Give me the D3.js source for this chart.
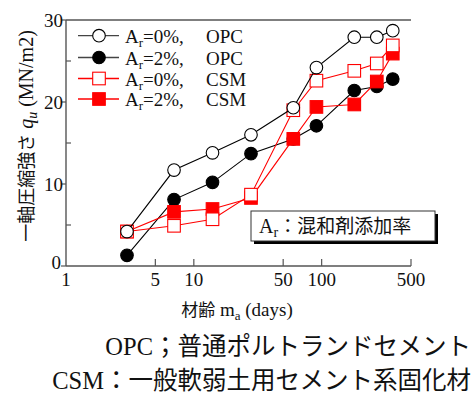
<!DOCTYPE html>
<html><head><meta charset="utf-8">
<script src="https://cdn.jsdelivr.net/npm/d3@7/dist/d3.min.js"></script>
<style>
body{margin:0;background:#fff;}
text{font-family:"Liberation Serif","Times New Roman","Tinos","DejaVu Serif",serif;fill:#111;}
.jp{font-family:"Noto Sans CJK JP","Noto Sans CJK SC",sans-serif;}
</style></head>
<body><svg id="c" width="473" height="394"></svg>
<script>
const days = [3, 7, 14, 28, 60, 91, 180, 270, 360];
const opc0 = [4.2, 11.7, 13.8, 16.0, 19.3, 24.2, 27.9, 27.9, 28.7];
const opc2 = [1.3, 8.1, 10.2, 13.7, 15.5, 17.1, 21.4, 21.9, 22.8];
const csm0 = [4.2, 4.9, 5.7, 8.7, 19.0, 22.6, 23.8, 24.7, 26.9];
const csm2 = [4.2, 6.6, 6.95, 8.3, 15.5, 19.4, 19.7, 22.5, 25.9];
const xTicks = [1, 5, 10, 50, 100, 500];
const yMajor = [0, 10, 20, 30];
const yMinor = [5, 15, 25];
const legendLabels = [["0%", "OPC"], ["2%", "OPC"], ["0%", "CSM"], ["2%", "CSM"]];

const svg = d3.select("#c");
const x = d3.scaleLog().domain([1, 500]).range([66, 411]);
const y = d3.scaleLinear().domain([0, 30]).range([266, 20]);
const axisColor = "#555";

svg.append("line").attr("x1", x(1)).attr("x2", x(500)).attr("y1", y(30)).attr("y2", y(30))
  .attr("stroke", axisColor).attr("stroke-width", 1.4);
svg.append("line").attr("x1", x(1)).attr("x2", x(1)).attr("y1", y(30)).attr("y2", y(0))
  .attr("stroke", axisColor).attr("stroke-width", 1.4);
svg.append("line").attr("x1", x(1)).attr("x2", x(500)).attr("y1", y(0)).attr("y2", y(0))
  .attr("stroke", axisColor).attr("stroke-width", 1.4);

const gx = svg.append("g");
xTicks.forEach(t => {
  if (t !== 1) gx.append("line").attr("x1", x(t)).attr("x2", x(t)).attr("y1", y(0)).attr("y2", y(0) - 7)
    .attr("stroke", axisColor).attr("stroke-width", 1.2);
  gx.append("text").attr("x", x(t)).attr("y", 286).attr("text-anchor", "middle")
    .attr("font-size", 19).text(t);
});
yMajor.forEach(t => {
  svg.append("line").attr("x1", x(1) - 5).attr("x2", x(1)).attr("y1", y(t)).attr("y2", y(t))
    .attr("stroke", axisColor).attr("stroke-width", 1.2);
  svg.append("text").attr("x", t === 0 ? 61 : 63).attr("y", y(t) + (t === 0 ? 3 : 6.5)).attr("text-anchor", "end")
    .attr("font-size", 19).text(t);
});
yMinor.forEach(t => {
  svg.append("line").attr("x1", x(1)).attr("x2", x(1) + 5).attr("y1", y(t)).attr("y2", y(t))
    .attr("stroke", axisColor).attr("stroke-width", 1.2);
});

const xt = svg.append("text").attr("x", 237).attr("y", 316).attr("text-anchor", "middle").attr("font-size", 19);
xt.append("tspan").attr("class", "jp").attr("font-size", 17).text("材齢");
xt.append("tspan").text(" m");
xt.append("tspan").attr("font-size", 13).attr("dy", 4).text("a");
xt.append("tspan").attr("dy", -4).text(" (days)");

const yt = svg.append("text").attr("transform", "translate(33,136) rotate(-90)").attr("text-anchor", "middle").attr("font-size", 20);
yt.append("tspan").attr("class", "jp").attr("font-size", 18).text("一軸圧縮強さ");
yt.append("tspan").attr("font-style", "italic").text(" q");
yt.append("tspan").attr("font-style", "italic").attr("font-size", 14).attr("dy", 4).text("u");
yt.append("tspan").attr("dy", -4).text(" (MN/m2)");

const series = [
  {v: opc2, color: "#000", shape: "circle", fill: "#000"},
  {v: csm2, color: "#f00", shape: "square", fill: "#f00"},
  {v: csm0, color: "#f00", shape: "square", fill: "#fff"},
  {v: opc0, color: "#000", shape: "circle", fill: "#fff"}
];
const line = d3.line().x((d, i) => x(days[i])).y(d => y(d));
function marker(g, cx, cy, s) {
  if (s.shape === "circle") {
    g.append("circle").attr("cx", cx).attr("cy", cy).attr("r", 6.3)
      .attr("fill", s.fill).attr("stroke", s.color).attr("stroke-width", 1.1);
  } else {
    g.append("rect").attr("x", cx - 6.3).attr("y", cy - 6.3).attr("width", 12.6).attr("height", 12.6)
      .attr("fill", s.fill).attr("stroke", s.color).attr("stroke-width", 1.1);
  }
}
series.forEach(s => {
  const g = svg.append("g");
  g.append("path").attr("d", line(s.v)).attr("fill", "none").attr("stroke", s.color).attr("stroke-width", 1.1);
  s.v.forEach((d, i) => marker(g, x(days[i]), y(d), s));
});

const legSeries = [series[3], series[0], series[2], series[1]];
const rowY = [35.7, 57.5, 78.5, 99];
legSeries.forEach((s, i) => {
  const g = svg.append("g");
  g.append("line").attr("x1", 78).attr("x2", 119).attr("y1", rowY[i]).attr("y2", rowY[i])
    .attr("stroke", s.color === "#000" ? "#444" : s.color).attr("stroke-width", 1.3);
  marker(g, 99, rowY[i], s);
  const t = g.append("text").attr("x", 125).attr("y", rowY[i] + 7).attr("font-size", 19);
  t.append("tspan").text("A");
  t.append("tspan").attr("font-size", 13).attr("dy", 4).text("r");
  t.append("tspan").attr("dy", -4).text("=" + legendLabels[i][0] + ",");
  g.append("text").attr("x", 206).attr("y", rowY[i] + 7).attr("font-size", 19).text(legendLabels[i][1]);
});

svg.append("rect").attr("x", 254).attr("y", 214).attr("width", 184).attr("height", 30).attr("fill", "#000");
svg.append("rect").attr("x", 251).attr("y", 211).attr("width", 184).attr("height", 30)
  .attr("fill", "#fff").attr("stroke", "#333").attr("stroke-width", 1);
const at = svg.append("text").attr("x", 259).attr("y", 233).attr("font-size", 20);
at.append("tspan").text("A");
at.append("tspan").attr("font-size", 14).attr("dy", 4).text("r");
at.append("tspan").attr("class", "jp").attr("dy", -4).attr("font-size", 19).text("：混和剤添加率");

const f1 = svg.append("text").attr("x", 471).attr("y", 355).attr("text-anchor", "end").attr("font-size", 24.5);
f1.append("tspan").text("OPC");
f1.append("tspan").attr("class", "jp").text("；普通ポルトランドセメント");
const f2 = svg.append("text").attr("x", 471).attr("y", 389).attr("text-anchor", "end").attr("font-size", 24.5);
f2.append("tspan").text("CSM");
f2.append("tspan").attr("class", "jp").text("：一般軟弱土用セメント系固化材");
</script></body></html>
